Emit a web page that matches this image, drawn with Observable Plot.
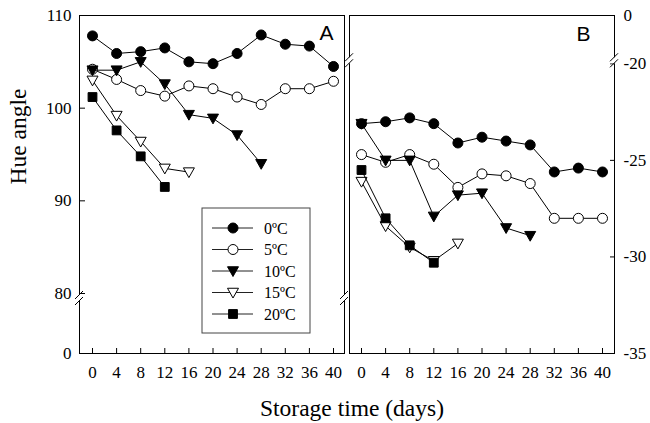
<!DOCTYPE html>
<html><head><meta charset="utf-8">
<script src="https://cdn.jsdelivr.net/npm/d3@7"></script>
<script src="https://cdn.jsdelivr.net/npm/@observablehq/plot@0.6"></script>
<style>
body{margin:0;background:#fff;}
#fig{position:relative;width:650px;height:423px;font-family:"Liberation Serif",serif;color:#000;}
#fig svg{position:absolute;top:0;overflow:visible;background:transparent;}
#fig svg text{font-family:"Liberation Serif",serif;}
#xtitle{position:absolute;left:252px;width:200px;top:395px;text-align:center;font-size:23.5px;white-space:nowrap;}
</style></head><body><div id="fig"><div id="xtitle">Storage time (days)</div></div>
<script>
// ---- data ----
const days = [0,4,8,12,16,20,24,28,32,36,40];
const seriesLabels = ["0ºC","5ºC","10ºC","15ºC","20ºC"];
// Panel A: hue angle
const hueA_0  = [107.8,105.9,106.1,106.5,105.0,104.8,105.9,107.9,106.9,106.7,104.5];
const hueA_5  = [104.2,103.1,101.9,101.3,102.4,102.1,101.2,100.4,102.1,102.1,102.9];
const hueA_10 = [104.1,104.1,105.0,102.6,99.3,98.9,97.1,94.0];
const hueA_15 = [103.0,99.2,96.4,93.5,93.1];
const hueA_20 = [101.2,97.6,94.8,91.5];
// Panel B
const hueB_0  = [-23.1,-23.0,-22.8,-23.1,-24.1,-23.8,-24.0,-24.2,-25.6,-25.4,-25.6];
const hueB_5  = [-24.7,-25.1,-24.7,-25.2,-26.4,-25.7,-25.8,-26.2,-28.0,-28.0,-28.0];
const hueB_10 = [-23.1,-25.0,-25.0,-27.9,-26.8,-26.7,-28.5,-28.9];
const hueB_15 = [-26.1,-28.4,-29.5,-30.2,-29.3];
const hueB_20 = [-25.5,-28.0,-29.4,-30.3];
const yTicksA = [0,80,90,100,110];
const yTicksB = [0,-20,-25,-30,-35];

// ---- symbols ----
const triDown = {draw(ctx,size){const r=Math.sqrt(size/Math.PI);ctx.moveTo(-1.1*r,-0.85*r);ctx.lineTo(1.1*r,-0.85*r);ctx.lineTo(0,1.1*r);ctx.closePath();}};
const square = {draw(ctx,size){const r=Math.sqrt(size/Math.PI)*0.88;ctx.rect(-r,-r,2*r,2*r);}};
const looks = [
  {symbol:"circle", fill:"black"},
  {symbol:"circle", fill:"white"},
  {symbol:triDown, fill:"black"},
  {symbol:triDown, fill:"white"},
  {symbol:square, fill:"black"}
];

function seriesMarks(list){
  const marks=[];
  list.forEach((vals,i)=>{
    const rows = vals.map((v,j)=>({day:days[j], v, s:seriesLabels[i]}));
    marks.push(Plot.line(rows,{x:"day",y:"v",stroke:"black",strokeWidth:1}));
    marks.push(Plot.dot(rows,{x:"day",y:"v",r:5,symbol:looks[i].symbol,fill:looks[i].fill,stroke:"black",strokeWidth:1}));
  });
  return marks;
}

function brk(svg,x,y){
  const g=d3.select(svg).append("g");
  g.append("rect").attr("x",x-4).attr("y",y-3).attr("width",8).attr("height",6).attr("fill","white");
  for(const dy of [-3,3]) g.append("line").attr("x1",x-4).attr("y1",y+dy+4).attr("x2",x+4).attr("y2",y+dy-4).attr("stroke","black").attr("stroke-width",1);
}
function sansLetter(svg,letter){
  d3.select(svg).selectAll("text").filter(function(){return this.textContent===letter;})
    .style("font-family","'Liberation Sans', sans-serif");
}

const fontStyle = {fontFamily:"'Liberation Serif', serif", fontSize:"17px", background:"transparent", overflow:"visible"};

// ---- Panel A ----
const plotA = Plot.plot({
  width:347, height:423,
  marginLeft:79, marginRight:3, marginTop:15, marginBottom:70,
  style:fontStyle,
  x:{domain:[0,40], range:[92,333], ticks:days, tickSize:-5, tickPadding:17, tickFormat:d=>String(d), label:null},
  y:{type:"linear", domain:[0,80,110], range:[353,293,15], ticks:yTicksA, tickSize:-6, tickPadding:14, tickFormat:d=>String(d), label:null},
  marks:[
    Plot.frame({stroke:"black"}),
    ...seriesMarks([hueA_0,hueA_5,hueA_10,hueA_15,hueA_20]),
    Plot.text(["A"],{frameAnchor:"top-right",dx:-11,dy:10,fontSize:21}),
    Plot.text(["Hue angle"],{frameAnchor:"left",dx:-61,rotate:-90,fontSize:23.5})
  ]
});
plotA.style.left="0px";
document.getElementById("fig").appendChild(plotA);
sansLetter(plotA,"A");
const yA = plotA.scale("y");
brk(plotA,79,yA.apply(80)+5);
brk(plotA,344,yA.apply(80)+5);

// legend
{
  const g=d3.select(plotA).append("g").attr("text-anchor","start");
  g.append("rect").attr("x",202).attr("y",208).attr("width",108).attr("height",125).attr("fill","white").attr("stroke","#444");
  seriesLabels.forEach((lab,i)=>{
    const y=228+i*21.5;
    g.append("line").attr("x1",212).attr("x2",253).attr("y1",y).attr("y2",y).attr("stroke","#222");
    const sym = looks[i].symbol==="circle"?d3.symbolCircle:looks[i].symbol;
    g.append("path").attr("d",d3.symbol(sym,25*Math.PI)()).attr("transform",`translate(233,${y})`).attr("fill",looks[i].fill).attr("stroke","black");
    g.append("text").attr("x",264).attr("y",y+5.5).attr("font-size",16).attr("text-anchor","start").text(lab);
  });
}

// ---- Panel B ----
const plotB = Plot.plot({
  width:303, height:423,
  marginLeft:2, marginRight:36, marginTop:15, marginBottom:70,
  style:fontStyle,
  x:{domain:[0,40], range:[14,255], ticks:days, tickSize:-5, tickPadding:17, tickFormat:d=>String(d), label:null},
  y:{type:"linear", axis:"right", domain:[-35,-20,0], range:[353,63.3,15], ticks:yTicksB, tickSize:-5, tickPadding:14, tickFormat:d=>String(d), label:null},
  marks:[
    Plot.frame({stroke:"black"}),
    ...seriesMarks([hueB_0,hueB_5,hueB_10,hueB_15,hueB_20]),
    Plot.text(["B"],{frameAnchor:"top-right",dx:-24,dy:11,fontSize:21})
  ]
});
plotB.style.left="347px";
document.getElementById("fig").appendChild(plotB);
sansLetter(plotB,"B");
const yB = plotB.scale("y");
brk(plotB,2,yB.apply(-20)-3);
brk(plotB,267,yB.apply(-20)-3);
</script></body></html>
